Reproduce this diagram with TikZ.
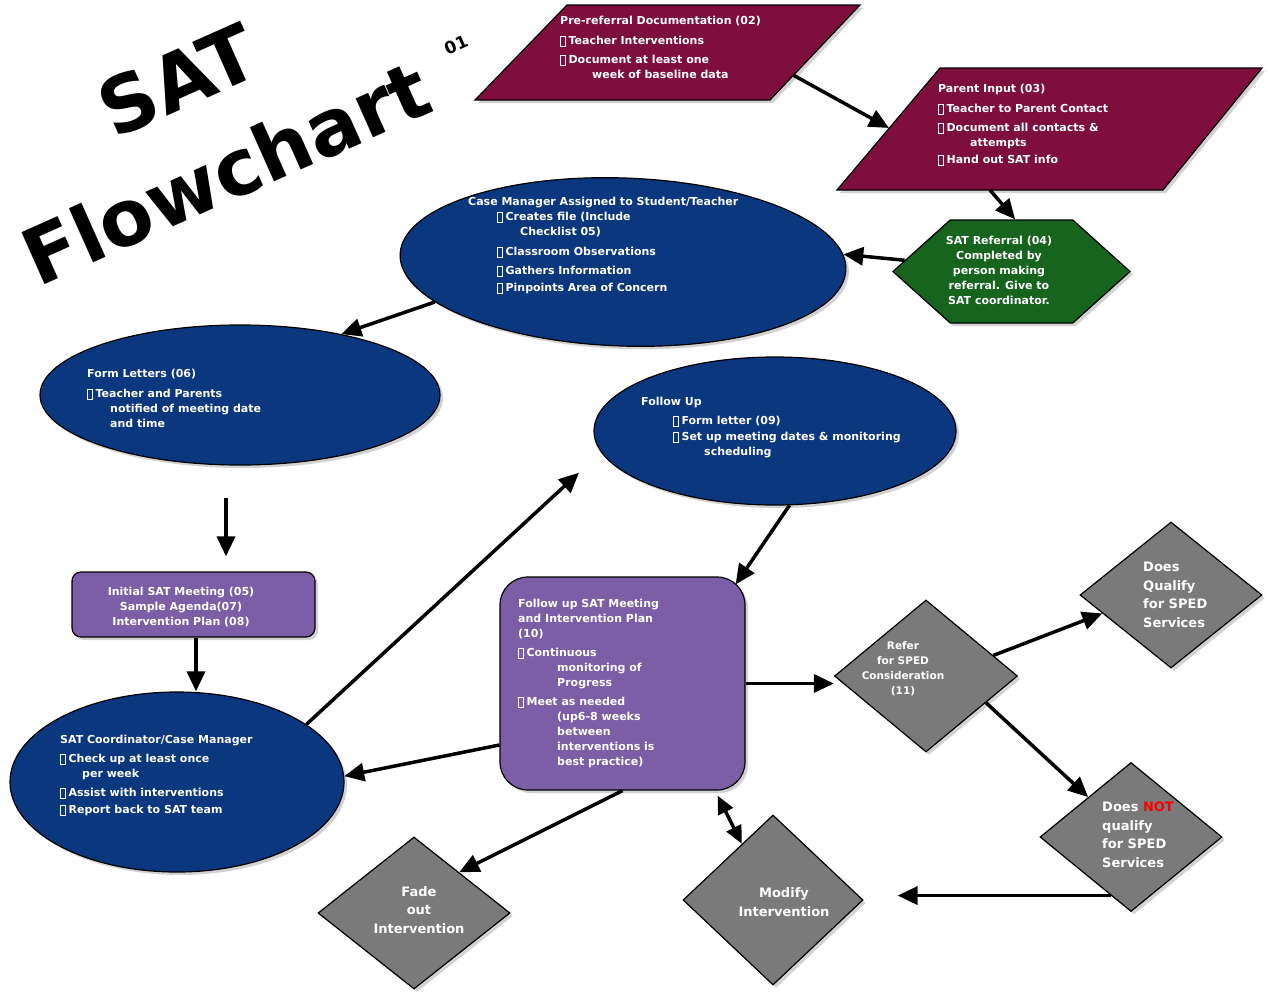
\documentclass[tikz,border=0pt]{standalone}
\usepackage{fontspec}
\setmainfont{DejaVu Sans}
\setsansfont{DejaVu Sans}
\usetikzlibrary{shapes.geometric,shapes.symbols,arrows.meta,shadows,calc}
\definecolor{maroon}{RGB}{125,14,62}
\definecolor{navy}{RGB}{10,55,125}
\definecolor{dgreen}{RGB}{22,100,30}
\definecolor{lpurple}{RGB}{123,94,166}
\definecolor{dgray}{RGB}{122,122,122}
\newcommand{\bx}{{\setlength{\fboxsep}{0pt}\setlength{\fboxrule}{0.7pt}\raisebox{-1pt}{\fbox{\rule{0pt}{9pt}\hspace{4pt}}}}\hspace{3pt}}
\begin{document}
\begin{tikzpicture}[x=1pt,y=-1pt,
  pshp/.style={draw=black, line width=1.2pt,
    drop shadow={shadow xshift=3pt, shadow yshift=-3pt, opacity=0.35}},
  shp/.style={pshp, inner sep=0pt},
  txt/.style={text=white, font=\sffamily\bfseries\fontsize{11}{15}\selectfont, align=left, inner sep=0pt, anchor=north west},
  ctxt/.style={text=white, font=\sffamily\bfseries\fontsize{11}{15}\selectfont, align=center, inner sep=0pt},
  btxt/.style={text=white, font=\sffamily\bfseries\fontsize{13}{18.5}\selectfont, inner sep=0pt},
  titlef/.style={font=\sffamily\bfseries\fontsize{78}{78}\selectfont, inner sep=0pt, rotate=24},
  arr/.style={line width=3.5pt, -{Triangle[length=20pt,width=18pt]}},
  arrd/.style={line width=3.5pt, {Triangle[length=18pt,width=16pt]}-{Triangle[length=18pt,width=16pt]}}
]
\useasboundingbox[fill=white] (0,0) rectangle (1268,996);

% title
\node[titlef] (tsat) at (178,80) {SAT};
\node[titlef] (tflow) at (226,172) {Flowchart};
\node[font=\sffamily\bfseries\fontsize{17}{17}\selectfont, rotate=24, inner sep=0pt] (t01) at (456,45) {01};

% parallelograms
\path[pshp, fill=maroon] (567,5) -- (860,5) -- (770,100) -- (475,100) -- cycle;
\path[pshp, fill=maroon] (940,68) -- (1262,68) -- (1163,190) -- (837,190) -- cycle;
\coordinate (preout) at (793,75);
\coordinate (parin) at (889,128);
\coordinate (parout) at (990,190);

% shapes
\node[shp, fill=dgreen, signal, signal to=west and east, signal pointer angle=84, minimum width=237, minimum height=103] (ref) at (1011.5,271.5) {};
\node[shp, fill=navy, ellipse, rotate=-2, minimum width=446, minimum height=168] (cm) at (623,262) {};
\node[shp, fill=navy, ellipse, minimum width=400, minimum height=140] (fl) at (240,395) {};
\node[shp, fill=navy, ellipse, minimum width=362, minimum height=148] (fu) at (775,431) {};
\node[shp, fill=lpurple, rectangle, rounded corners=9pt, minimum width=243, minimum height=65] (ism) at (193.5,604.5) {};
\node[shp, fill=lpurple, rectangle, rounded corners=28pt, minimum width=245, minimum height=213] (fsm) at (622.5,683.5) {};
\node[shp, fill=navy, ellipse, minimum width=334, minimum height=180] (coord) at (177,782) {};
\node[shp, fill=dgray, diamond, minimum width=183, minimum height=152] (refer) at (926,676) {};
\node[shp, fill=dgray, diamond, minimum width=182, minimum height=146] (dq) at (1171,595) {};
\node[shp, fill=dgray, diamond, minimum width=182, minimum height=149] (dnq) at (1131,837) {};
\node[shp, fill=dgray, diamond, minimum width=192, minimum height=152] (fade) at (414,913) {};
\node[shp, fill=dgray, diamond, minimum width=180, minimum height=170] (mod) at (773,900) {};

% texts
\node[txt] (tpre) at (560,16) {Pre-referral Documentation (02)\\[5pt]
\bx Teacher Interventions\\[4pt]
\bx Document at least one\\
\hspace*{32pt}week of baseline data};
\node[txt] (tpar) at (938,84) {Parent Input (03)\\[5pt]
\bx Teacher to Parent Contact\\[4pt]
\bx Document all contacts \&\\
\hspace*{32pt}attempts\\[2pt]
\bx Hand out SAT info};
\node[ctxt] (tref) at (999,270) {SAT Referral (04)\\Completed by\\person making\\referral. Give to\\SAT coordinator.};
\node[txt] (tcm) at (468,197) {Case Manager Assigned to Student/Teacher\\[0pt]
\hspace*{29pt}\bx Creates file (Include\\
\hspace*{52pt}Checklist 05)\\[5pt]
\hspace*{29pt}\bx Classroom Observations\\[4pt]
\hspace*{29pt}\bx Gathers Information\\[2pt]
\hspace*{29pt}\bx Pinpoints Area of Concern};
\node[txt] (tfl) at (87,369) {Form Letters (06)\\[5pt]
\bx Teacher and Parents\\
\hspace*{23pt}notified of meeting date\\
\hspace*{23pt}and time};
\node[txt] (tfu) at (641,397) {Follow Up\\[4pt]
\hspace*{32pt}\bx Form letter (09)\\[1pt]
\hspace*{32pt}\bx Set up meeting dates \& monitoring\\
\hspace*{63pt}scheduling};
\node[ctxt] (tism) at (181,607) {Initial SAT Meeting (05)\\Sample Agenda(07)\\Intervention Plan (08)};
\node[txt] (tfsm) at (518,599) {Follow up SAT Meeting\\
and Intervention Plan\\
(10)\\[4pt]
\bx Continuous\\
\hspace*{39pt}monitoring of\\
\hspace*{39pt}Progress\\[4pt]
\bx Meet as needed\\
\hspace*{39pt}(up6-8 weeks\\
\hspace*{39pt}between\\
\hspace*{39pt}interventions is\\
\hspace*{39pt}best practice)};
\node[txt] (tcoord) at (60,735) {SAT Coordinator/Case Manager\\[4pt]
\bx Check up at least once\\
\hspace*{22pt}per week\\[4pt]
\bx Assist with interventions\\[2pt]
\bx Report back to SAT team};
\node[ctxt, font=\sffamily\bfseries\fontsize{10.5}{15}\selectfont] (trefer) at (903,669) {Refer\\for SPED\\Consideration\\(11)};
\node[btxt, align=left, anchor=north west] (tdq) at (1143,562) {Does\\Qualify\\for SPED\\Services};
\node[btxt, align=left, anchor=north west] (tdnq) at (1102,802) {Does \textcolor{red}{NOT}\\qualify\\for SPED\\Services};
\node[btxt, align=center] (tfade) at (419,910) {Fade\\out\\Intervention};
\node[btxt, align=center] (tmod) at (784,902) {Modify\\Intervention};

% connectors
\draw[arr] (preout) -- (parin);
\draw[arr] (parout) -- (ref.86);
\draw[arr] (ref.174) -- (cm.4);
\draw[arr] (cm.194) -- (fl.31);
\draw[arr, shorten <=32pt, shorten >=15pt] ([xshift=-14pt]fl.south) -- ([xshift=-14pt]fl.south |- ism.north);
\draw[arr] ([xshift=2.5pt]ism.south) -- ([xshift=2.5pt]ism.south |- coord.north);
\draw[arr, shorten >=30pt] (coord.24) -- (fu.187);
\draw[arr] (fu.-79) -- ([xshift=-10pt,yshift=-8pt]fsm.north east);
\draw[arr] ([yshift=-61.5pt]fsm.west) -- (coord.2);
\draw[arr] (fsm.east) -- (fsm.east -| refer.west);
\draw[arr] (refer.17) -- (dq.195);
\draw[arr] (refer.-24) -- (dnq.137);
\draw[arr] (fsm.south) -- (fade.42);
\draw[arrd] ([xshift=-28pt,yshift=-5pt]fsm.south east) -- (mod.119);
\draw[arr, shorten >=34pt] (dnq.251) -- (dnq.251 -| mod.east);
\end{tikzpicture}
\end{document}
